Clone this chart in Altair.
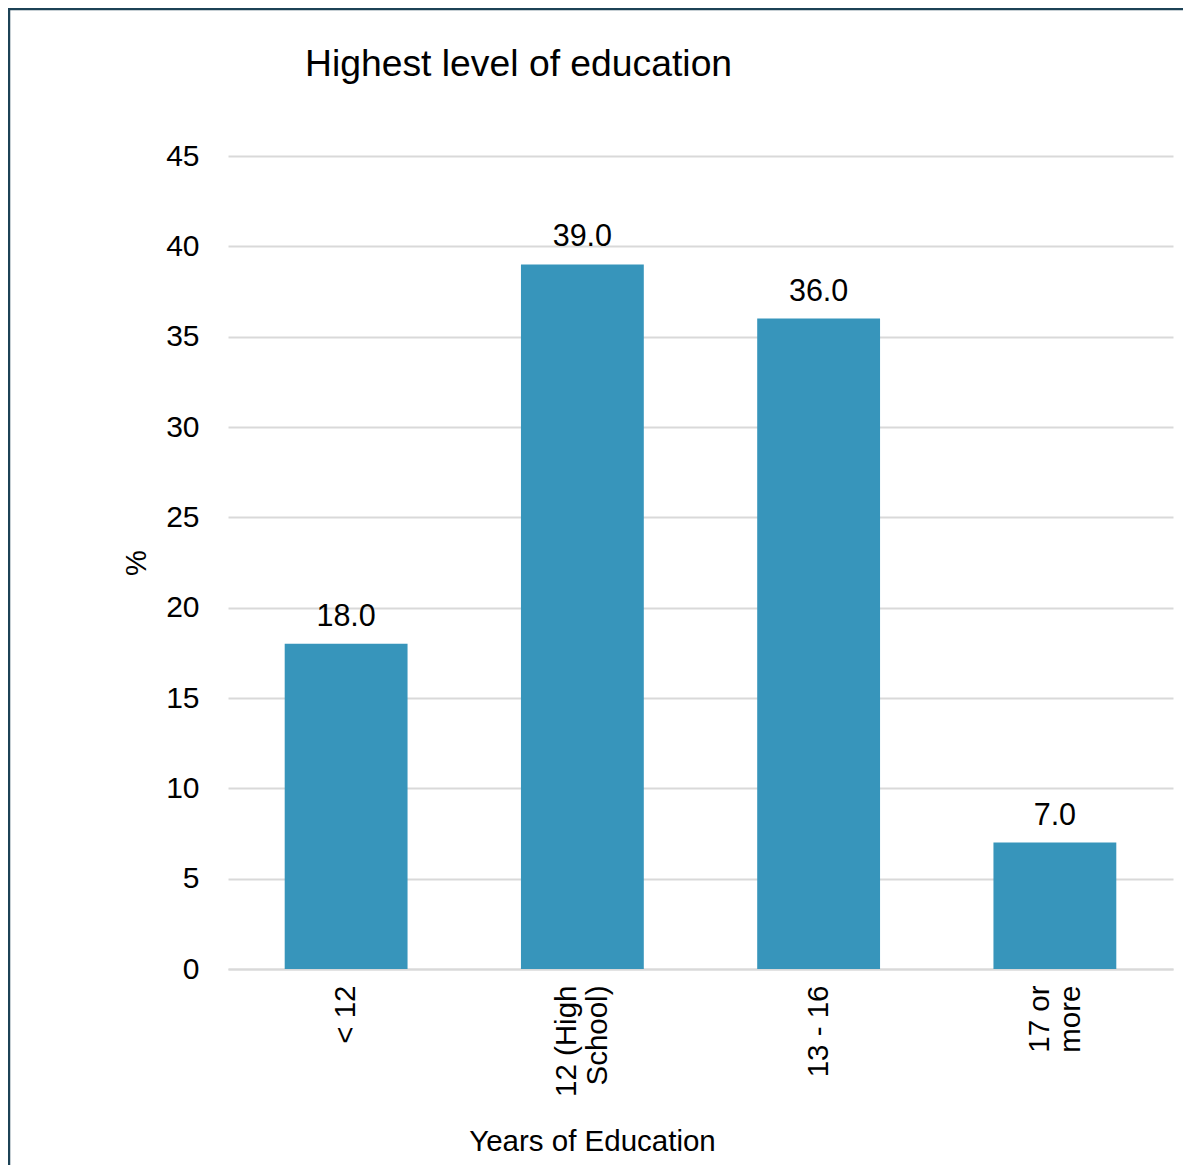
import altair as alt
import pandas as pd

categories = ["< 12", "12 (High\nSchool)", "13 - 16", "17 or\nmore"]
values = [18.0, 39.0, 36.0, 7.0]
y_ticks = [0, 5, 10, 15, 20, 25, 30, 35, 40, 45]

df = pd.DataFrame({"cat": categories, "val": values})

FONT = "Liberation Sans"
BAR = "#3795bb"
FRAME = "#1c4256"

x_enc = alt.X(
    "cat:N",
    sort=categories,
    scale=alt.Scale(paddingInner=0.48, paddingOuter=0.24),
    axis=alt.Axis(
        title="Years of Education",
        labelAngle=-90,
        labelFontSize=29.5,
        labelFont=FONT,
        labelColor="#000000",
        labelPadding=16,
        labelLineHeight=31,
        labelExpr="split(datum.label, '\\n')",
        labelOffset={"condition": {"test": "indexof(datum.value, '\\n') >= 0", "value": -15}, "value": 0},
        titleFontSize=29.5,
        titleFont=FONT,
        titleFontWeight="normal",
        titleColor="#000000",
        titlePadding=31,
        titleX=364,
        titleAnchor="start",
        titleAlign="center",
        ticks=False,
        domain=True,
        domainColor="#d9d9d9",
        domainWidth=2,
        grid=False,
    ),
)

y_enc = alt.Y(
    "val:Q",
    scale=alt.Scale(domain=[0, 45], nice=False),
    axis=alt.Axis(
        title="%",
        values=y_ticks,
        labelFontSize=30,
        labelFont=FONT,
        labelColor="#000000",
        labelPadding=29,
        titleFontSize=29,
        titleFont=FONT,
        titleFontWeight="normal",
        titleColor="#000000",
        titlePadding=14,
        ticks=False,
        domain=False,
        grid=True,
        gridColor="#d9d9d9",
        gridWidth=2,
    ),
)

bars = alt.Chart(df).mark_bar(color=BAR).encode(x=x_enc, y=y_enc)

labels = alt.Chart(df).mark_text(
    font=FONT, fontSize=30.5, color="#000000", baseline="alphabetic", dy=-18
).encode(
    x=alt.X("cat:N", sort=categories),
    y=alt.Y("val:Q"),
    text=alt.Text("val:Q", format=".1f"),
)

frame_df = pd.DataFrame({"a": [0]})
top_edge = alt.Chart(frame_df).mark_rule(
    color=FRAME, strokeWidth=2.5, clip=False
).encode(x=alt.value(-220), x2=alt.value(960), y=alt.value(-147))
left_edge = alt.Chart(frame_df).mark_rule(
    color=FRAME, strokeWidth=2.5, clip=False
).encode(x=alt.value(-219), y=alt.value(-148), y2=alt.value(1010))

title = alt.Chart(pd.DataFrame({"t": ["Highest level of education"]})).mark_text(
    font=FONT, fontSize=37.3, color="#000000", align="left", baseline="alphabetic"
).encode(
    x=alt.value(77),
    y=alt.value(-80),
    text="t:N",
)

chart = alt.layer(bars, labels, top_edge, left_edge, title).properties(
    width=945,
    height=813,
    autosize=alt.AutoSizeParams(type="none"),
    padding={"left": 220, "top": 148, "right": 10, "bottom": 196},
    background="#ffffff",
).configure_view(stroke=None)

chart.save("out.html", embed_options={"renderer": "svg", "actions": False})
